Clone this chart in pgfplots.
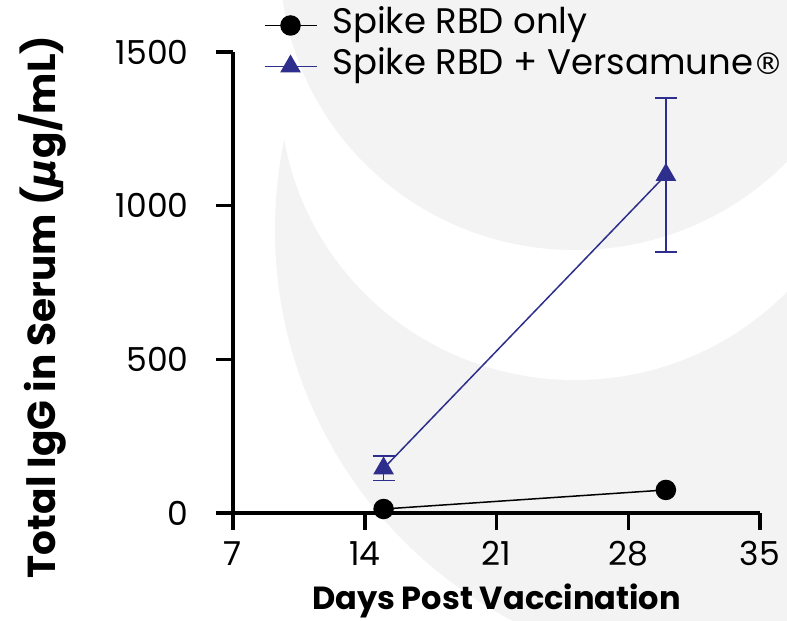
\documentclass[border=0pt]{standalone}
\usepackage{pgfplots}
\pgfplotsset{compat=1.18}
\usepackage{fontspec}
\setmainfont{Poppins}
\newfontfamily\dejavu{DejaVu Sans}
\definecolor{bggray}{RGB}{243,243,243}
\definecolor{navy}{RGB}{46,46,140}
\begin{document}
\begin{tikzpicture}
\path[use as bounding box] (0,0) rectangle (787pt,621pt);
\begin{scope}
\clip (0,0) rectangle (787pt,621pt);
\fill[white] (0,0) rectangle (787pt,621pt);
\fill[bggray] (715pt,391pt) circle (440pt);
\fill[white] (575pt,531pt) ellipse [x radius=295pt, y radius=290pt];
\fill[bggray] (575pt,661pt) ellipse [x radius=295pt, y radius=290pt];
\end{scope}
\begin{axis}[
  at={(233pt,108pt)}, anchor=south west,
  scale only axis, width=527pt, height=461pt,
  xmin=7, xmax=35, ymin=0, ymax=1500,
  xtick={7,14,21,28,35}, ytick={0,500,1000,1500},
  axis x line*=bottom, axis y line*=left,
  axis line style={line width=3.5pt,-},
  every outer x axis line/.append style={line width=3.5pt},
  every outer y axis line/.append style={line width=3.5pt},
  tick align=outside, major tick length=17pt,
  every tick/.append style={line width=3.5pt,black},
  xtick style={line width=3.5pt,black},
  ytick style={line width=3.5pt,black},
  /pgf/number format/assume math mode=true,
  /pgf/number format/1000 sep={},
  ticklabel style={font=\fontsize{33}{36}\selectfont},
  yticklabel style={xshift=-24pt},
  xticklabel style={yshift=-8pt},
  xlabel={Days Post Vaccination},
  ylabel={Total IgG in Serum ({\dejavu\bfseries\itshape μ}g/mL)},
  x label style={font=\fontsize{32}{36}\selectfont\bfseries, at={(axis description cs:0.5,-0.19)}, anchor=center},
  y label style={font=\fontsize{39}{42}\selectfont\bfseries, at={(axis description cs:-0.362,0.447)}, anchor=center},
  clip=false,
  legend style={at={(axis description cs:0.058,1.097)}, anchor=north west,
    draw=none, fill=none, inner sep=0pt, row sep=5pt,
    font=\fontsize{35.5}{40}\selectfont, cells={anchor=west},
    nodes={inner xsep=15pt, inner ysep=0pt, text height=26pt, text depth=10pt}},
  legend image code/.code={\draw[mark repeat=2,mark phase=2,#1] plot coordinates {(0pt,0pt) (26pt,0pt) (52pt,0pt)};},
]
\addplot[black, line width=1.5pt, mark=*, mark size=9.5pt, mark options={solid, fill=black}]
  coordinates {(15,13) (30,75)};
\addlegendentry{Spike RBD only}
\addplot[navy, line width=1.5pt, mark=triangle*, mark size=10.5pt, mark options={solid, fill=navy},
  error bars/.cd, y dir=both, y explicit,
  error bar style={line width=1.5pt, navy},
  error mark options={rotate=90, mark size=11pt, line width=1.5pt, navy}]
  coordinates {(15,145) +- (0,40) (30,1100) +- (0,250)};
\addlegendentry{Spike RBD + Versamune{\dejavu\fontsize{30}{36}\selectfont ®}}
\end{axis}
\end{tikzpicture}
\end{document}
